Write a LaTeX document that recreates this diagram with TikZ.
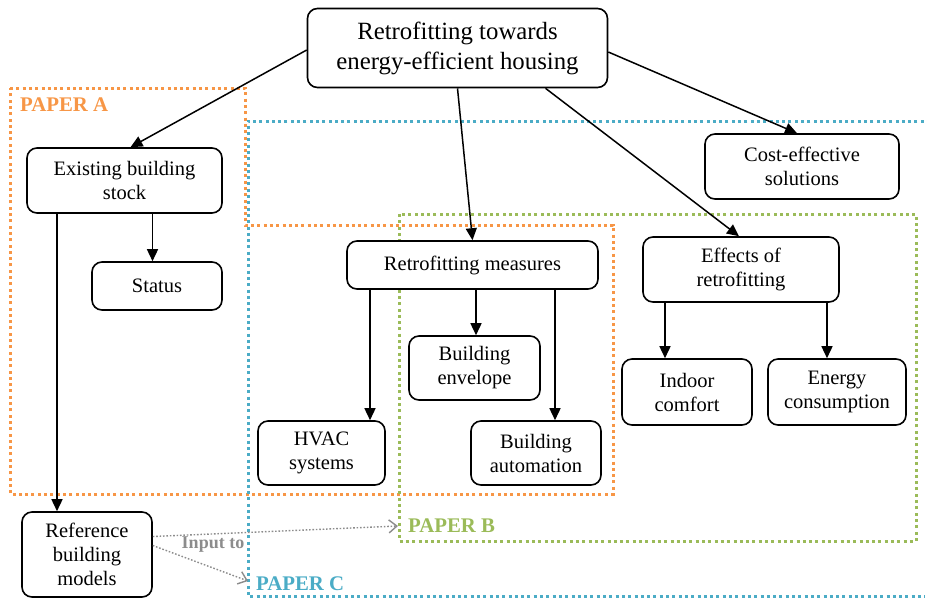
\documentclass[tikz,border=0pt]{standalone}
\usepackage{fontspec}
\setmainfont{Liberation Serif}
\usetikzlibrary{arrows.meta,calc}
\definecolor{paperA}{HTML}{F79646}
\definecolor{paperB}{HTML}{9BBB59}
\definecolor{paperC}{HTML}{4BACC6}
\definecolor{inputgray}{HTML}{8C8C8C}
\tikzset{
  box/.style={draw, fill=white, rounded corners=10pt, line width=1.6pt, align=center, inner sep=0pt,
    font=\fontsize{20.5}{24}\selectfont},
  conn/.style={line width=1.5pt, -{Triangle[length=12pt,width=11pt]}},
  region/.style={line width=3pt, dash pattern=on 3pt off 3.3pt},
  paperlabel/.style={font=\bfseries\fontsize{20.8}{22}\selectfont, inner sep=0pt, anchor=west},
  inputline/.style={draw=inputgray, line width=1.4pt, dash pattern=on 1.6pt off 1.8pt,
    -{Straight Barb[length=8pt,width=13pt,line width=1.4pt]}},
}
\begin{document}
\begin{tikzpicture}[x=1pt,y=-1pt]
\useasboundingbox (0,0) rectangle (925,598);
% regions
\draw[region, paperA] (10,88) -- (245,88) -- (245,225) -- (613,225) -- (613,494) -- (10,494) -- cycle;
\draw[region, paperC] (930,121) -- (248,121) -- (248,596) -- (930,596);
\draw[region, paperB] (399,214) rectangle (916,541);
\node[paperlabel, text=paperA] (labA) at (20,105) {PAPER A};
\node[paperlabel, text=paperB] (labB) at (408,526) {PAPER B};
\node[paperlabel, text=paperC] (labC) at (256,584) {PAPER C};
% nodes
\node[box, minimum width=300pt, minimum height=79pt, font=\fontsize{24.8}{30}\selectfont] (top) at (457.5,48) {Retrofitting towards\\energy-efficient housing};
\node[box, minimum width=195pt, minimum height=65pt] (exist) at (124.5,180.5) {Existing building\\stock};
\node[box, minimum width=130pt, minimum height=48pt] (status) at (157,286) {Status};
\node[box, minimum width=251pt, minimum height=48pt] (meas) at (472.5,265) {Retrofitting measures};
\node[box, minimum width=131pt, minimum height=64pt] (env) at (474.5,368) {Building\\envelope};
\node[box, minimum width=127pt, minimum height=64pt] (hvac) at (321.5,453) {HVAC\\systems};
\node[box, minimum width=130pt, minimum height=64pt] (auto) at (536,453) {Building\\automation};
\node[box, minimum width=194pt, minimum height=65pt] (cost) at (802,166.5) {Cost-effective\\solutions};
\node[box, minimum width=196pt, minimum height=65pt] (eff) at (741,269.5) {Effects of\\retrofitting};
\node[box, minimum width=130pt, minimum height=66pt] (indoor) at (687,392) {Indoor\\comfort};
\node[box, minimum width=138pt, minimum height=66pt] (energy) at (837,392) {Energy\\consumption};
\node[box, minimum width=130pt, minimum height=85pt] (ref) at (87,554.5) {Reference\\building\\models};
% connectors
\draw[conn] ([yshift=-2pt]top.west) -- ([xshift=6pt]exist.north);
\draw[conn] (top.south) -- (meas.north);
\draw[conn] ([xshift=88pt]top.south) -- ([xshift=-2pt]eff.north);
\draw[conn] ([yshift=-4pt]top.east) -- ([xshift=-5pt]cost.north);
\draw[conn] ([xshift=28pt]exist.south) -- ([xshift=28pt]exist.south |- status.north);
\draw[conn] ([xshift=-67.5pt]exist.south) -- ([xshift=-67.5pt]exist.south |- ref.north);
\draw[conn] ([xshift=-102.5pt]meas.south) -- ([xshift=-102.5pt]meas.south |- hvac.north);
\draw[conn] ([xshift=3.5pt]meas.south) -- ([xshift=3.5pt]meas.south |- env.north);
\draw[conn] ([xshift=82.5pt]meas.south) -- ([xshift=82.5pt]meas.south |- auto.north);
\draw[conn] ([xshift=-76pt]eff.south) -- ([xshift=-76pt]eff.south |- indoor.north);
\draw[conn] ([xshift=86pt]eff.south) -- ([xshift=86pt]eff.south |- energy.north);
% input arrows
\coordinate (pB) at (398,526);
\coordinate (pC) at (248,581);
\draw[inputline] ([yshift=18pt]ref.east) -- (pB);
\draw[inputline] ([yshift=9pt]ref.east) -- (pC);
\node[font=\bfseries\fontsize{18}{20}\selectfont, text=inputgray, inner sep=0pt] (inp) at (213,545) {Input to};
\end{tikzpicture}
\end{document}
